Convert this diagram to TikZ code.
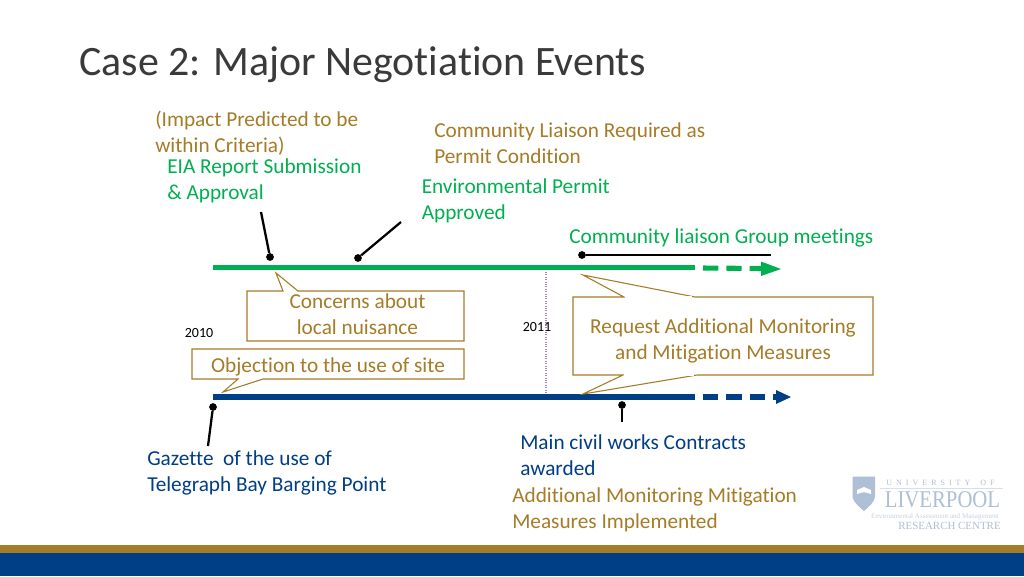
\documentclass[tikz,border=0pt]{standalone}
\usepackage{graphicx}
\usepackage{fontspec}
\setmainfont{Carlito}[Ligatures=NoCommon]
\newfontfamily\logofont{Liberation Serif}
\usetikzlibrary{arrows.meta}
\definecolor{gold}{HTML}{A57C27}
\definecolor{tgreen}{HTML}{00B050}
\definecolor{navy}{HTML}{003E85}
\definecolor{titlegray}{HTML}{3A3A3A}
\definecolor{logoblue}{HTML}{AEBFD6}
\tikzset{
  lab/.style={anchor=west,align=left,inner sep=0pt,font=\fontsize{15.95}{19.3}\selectfont},
  goldlab/.style={lab,text=gold},
  greenlab/.style={lab,text=tgreen},
  navylab/.style={lab,text=navy},
  ctr/.style={lab,anchor=center,align=center,text=gold},
  yearlab/.style={inner sep=0pt,font=\fontsize{10.5}{12}\selectfont,text=black},
  callout/.style={draw=gold,fill=white,line width=0.8pt,line join=miter},
  dot/.style={circle,fill=black,inner sep=0pt,minimum size=5.8pt},
  pin/.style={draw=black,line width=1.7pt},
  bar/.style={line width=3.8pt},
  dbar/.style={line width=3.8pt,dash pattern=on 11.5pt off 6pt},
  logotxt/.style={inner sep=0pt,text=logoblue}
}
\begin{document}
\begin{tikzpicture}[x=0.75pt,y=-0.75pt]
\useasboundingbox (0,0) rectangle (1024,576);
\fill[white] (0,0) rectangle (1024,576);
% footer
\fill[gold] (0,545) rectangle (1024,553);
\fill[navy] (0,553) rectangle (1024,576);
% title
\node[anchor=west,inner sep=0pt,text=titlegray,font=\fontsize{31.4}{36}\selectfont] (title) at (79,64.5) {Case 2: Major Negotiation Events};
% year divider
\coordinate (divtop) at (546,272);
\coordinate (divbot) at (546,396);
\draw[draw=logoblue!70!violet,line width=0.8pt,densely dotted] (divtop) -- (divbot);
% timelines
\coordinate (gs) at (213,267.5);
\coordinate (gm) at (695,267.5);
\coordinate (ge) at (762,268.5);
\coordinate (gt) at (781,269);
\coordinate (bs) at (213,397);
\coordinate (bm) at (695,397);
\coordinate (be) at (777,397);
\coordinate (bt) at (791,397);
\draw[tgreen,bar] (gs) -- (gm);
\draw[tgreen,dbar] (703,268) -- (ge);
\fill[tgreen] (761,261.5) -- (gt) -- (761,276) -- cycle;
\draw[navy,bar] (bs) -- (bm);
\draw[navy,dbar] (703,397) -- (be);
\fill[navy] (776,390) -- (bt) -- (776,404) -- cycle;
% pins
\node[dot] (d1) at (270,257) {};
\node[dot] (d2) at (358,258) {};
\node[dot] (d3) at (582,255) {};
\node[dot] (d4) at (213,407) {};
\node[dot] (d5) at (622,405) {};
\coordinate (e1) at (261,212);
\coordinate (e2) at (401,222);
\coordinate (e3) at (771,255);
\coordinate (e4) at (208,446);
\coordinate (e5) at (622,422);
\draw[pin] (d1) -- (e1);
\draw[pin] (d2) -- (e2);
\draw[pin,line width=1.4pt] (d3) -- (e3);
\draw[pin] (d4) -- (e4);
\draw[pin] (d5) -- (e5);
% callouts
\draw[callout] (247,291) -- (283,291) -- (276,273) -- (298,291) -- (464,291) -- (464,341) -- (247,341) -- cycle;
\node[ctr] (concerns) at (357.5,314) {Concerns about\\local nuisance\hspace{3pt}};
\draw[callout] (192,349) -- (464,349) -- (464,379) -- (263,379) -- (223,392) -- (238,379) -- (192,379) -- cycle;
\node[ctr] (objection) at (328,366.5) {Objection to the use of site};
\draw[callout] (573,297) -- (624,297) -- (583,275) -- (695,297) -- (873,297) -- (873,375) -- (697,375) -- (583,394) -- (623,375) -- (573,375) -- cycle;
\draw[white,line width=1pt] (625,297) -- (692,297);
\draw[white,line width=1pt] (624,375) -- (694,375);
\node[ctr] (request) at (723,341) {Request Additional Monitoring\\and Mitigation Measures};
% labels
\node[goldlab] (impact) at (155,133) {(Impact Predicted to be\\within Criteria)};
\node[greenlab] (eia) at (167,180.5) {EIA Report Submission\\\& Approval};
\node[goldlab] (liaison) at (434,143) {Community Liaison Required as\\Permit Condition};
\node[greenlab] (permit) at (421.5,201) {Environmental Permit\\Approved};
\node[greenlab] (clg) at (569,237.5) {Community liaison Group meetings};
\node[navylab] (gazette) at (147,473) {Gazette~ of the use of\\Telegraph Bay Barging Point};
\node[navylab] (civil) at (520,455) {Main civil works Contracts\\awarded};
\node[goldlab] (addl) at (512,510) {Additional Monitoring Mitigation\\Measures Implemented};
\node[yearlab] (y2010) at (199,332.5) {2010};
\node[yearlab] (y2011) at (537,326.5) {2011};
% logo
\fill[logoblue] (852.5,476.5) -- (875,476.5) -- (875,495) .. controls (875,503) and (868,507) .. (864,511) .. controls (860,507) and (852.5,503) .. (852.5,495) -- cycle;
\fill[white] (857,490) -- (864,487) -- (871,490) -- (871,494) -- (864,492) -- (857,494) -- cycle;
\node[logotxt,font=\logofont\fontsize{6}{7}\selectfont] (univ) at (940.5,482.5) {U\hspace{3pt}N\hspace{3pt}I\hspace{3pt}V\hspace{3pt}E\hspace{3pt}R\hspace{3pt}S\hspace{3pt}I\hspace{3pt}T\hspace{3pt}Y\hspace{7.5pt}O\hspace{3pt}F};
\draw[logoblue!50,line width=0.3pt] (880,488) -- (1003,488);
\node[logotxt,font=\logofont\fontsize{18}{22}\selectfont] (liv) at (942.5,500) {\scalebox{0.865}[1]{LIVERPOOL}};
\node[logotxt,font=\logofont\fontsize{5.3}{6}\selectfont,text=logoblue!70] (env) at (935,517) {Environmental Assessment and Management};
\node[logotxt,font=\logofont\fontsize{8.2}{10}\selectfont] (rc) at (949.5,526) {RESEARCH CENTRE};
\end{tikzpicture}
\end{document}
